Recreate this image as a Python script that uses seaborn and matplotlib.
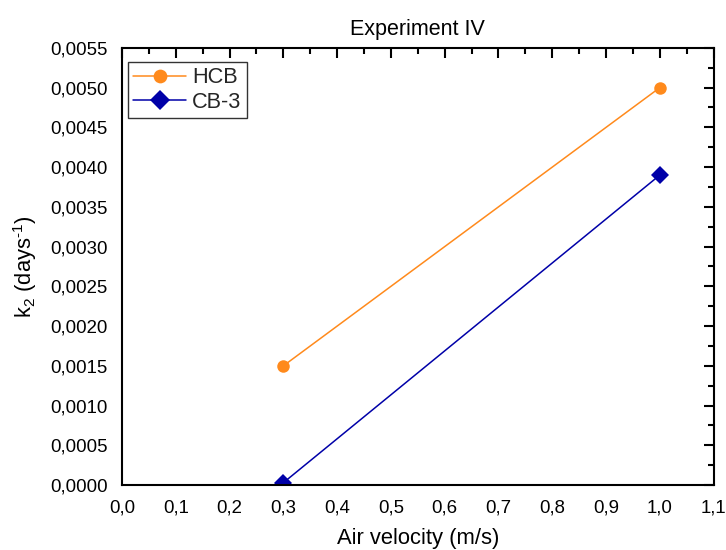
import matplotlib
matplotlib.use("Agg")
import matplotlib.pyplot as plt
import seaborn as sns
import pandas as pd
from matplotlib.ticker import MultipleLocator, FuncFormatter

sns.set_theme(style="white")
plt.rcParams['font.family'] = ['Liberation Sans', 'DejaVu Sans']
plt.rcParams['mathtext.fontset'] = 'custom'
plt.rcParams['mathtext.rm'] = 'Liberation Sans'
plt.rcParams['mathtext.it'] = 'Liberation Sans:italic'
plt.rcParams['axes.unicode_minus'] = False

air_velocity = [0.3, 1.0]
hcb = [0.0015, 0.0050]
cb3 = [0.00003, 0.0039]
series_names = ["HCB", "CB-3"]

df = pd.DataFrame({
    "x": air_velocity * 2,
    "y": hcb + cb3,
    "series": [series_names[0]] * 2 + [series_names[1]] * 2,
})

fig = plt.figure(figsize=(7.26, 5.5), dpi=100)
ax = fig.add_axes([0.168, 0.118, 0.815, 0.795])

palette = {"HCB": "#FF8A1C", "CB-3": "#0000A8"}
markers = {"HCB": "o", "CB-3": "D"}
sns.lineplot(data=df, x="x", y="y", hue="series", style="series",
             palette=palette, markers=markers, dashes=False, ax=ax,
             linewidth=1.1, markersize=9, markeredgewidth=0)

ax.set_xlim(0, 1.1)
ax.set_ylim(0, 0.0055)
ax.xaxis.set_major_locator(MultipleLocator(0.1))
ax.xaxis.set_minor_locator(MultipleLocator(0.05))
ax.yaxis.set_major_locator(MultipleLocator(0.0005))
ax.yaxis.set_minor_locator(MultipleLocator(0.00025))
ax.xaxis.set_major_formatter(FuncFormatter(lambda v, p: f"{v:.1f}".replace(".", ",")))
ax.yaxis.set_major_formatter(FuncFormatter(lambda v, p: f"{v:.4f}".replace(".", ",")))

for s in ax.spines.values():
    s.set_color("black")
    s.set_linewidth(1.5)

ax.tick_params(axis="both", which="both", direction="out", color="black",
               labelsize=13.4, labelcolor="black")
ax.tick_params(which="major", length=7, width=1.5)
ax.tick_params(which="minor", length=4, width=1.5)
ax.tick_params(top=True, right=True, which="both")
for t in ax.xaxis.get_major_ticks() + ax.xaxis.get_minor_ticks():
    t.tick2line.set_marker(matplotlib.lines.TICKDOWN)
for t in ax.yaxis.get_major_ticks() + ax.yaxis.get_minor_ticks():
    t.tick2line.set_marker(matplotlib.lines.TICKLEFT)

ax.set_xlabel("Air velocity (m/s)", fontsize=15.8, color="black", labelpad=8)
ax.set_ylabel("k$_2$ (days$^{\\text{-1}}$)", fontsize=15.8, color="black", labelpad=8)
ax.set_title("Experiment IV", fontsize=15.5, color="black", pad=9)

leg = ax.legend(loc="upper left", fontsize=15.7, frameon=True, fancybox=False,
                edgecolor="black", handlelength=2.4, handletextpad=0.3,
                borderpad=0.25, labelspacing=0.15, borderaxespad=0,
                bbox_to_anchor=(0.01, 0.968), markerscale=1.1)
leg.get_frame().set_linewidth(1.0)
leg.set_title(None)

fig.savefig("out.png", dpi=100)
